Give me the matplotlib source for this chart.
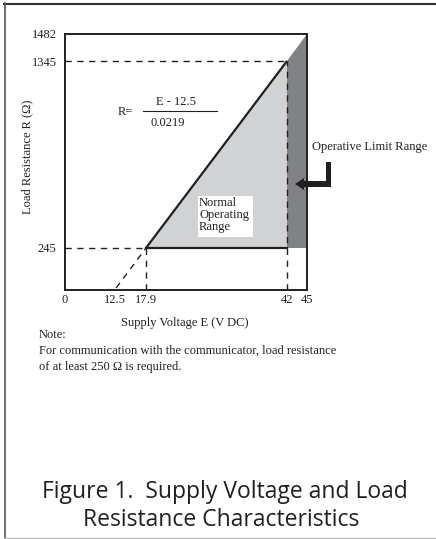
import numpy as np
import matplotlib
matplotlib.use('Agg')
import matplotlib.pyplot as plt
from matplotlib.lines import Line2D
from matplotlib.patches import Polygon, Rectangle

# values (schematic, non-uniform axes)
x_ticks = [0, 12.5, 17.9, 42, 45]
y_ticks = [0, 245, 1345, 1482]
x_tick_labels = ['0', '12.5', '17.9', '42', '45']
y_tick_labels = ['', '245', '1345', '1482']

e_min = 17.9      # minimum supply voltage at minimum load
e_max = 42        # maximum normal supply voltage
e_limit = 45      # operative limit
e_zero = 12.5     # intercept of R = (E - 12.5) / 0.0219
r_min = 245
r_max = 1345
r_limit = 1482

# where the ticks sit on the drawing (pixels from the axes origin)
x_pos = [0, 50, 81, 222, 242]
y_pos = [0, 42, 229, 256]

W, H = 436, 539
serif = 'Liberation Serif'


def px(x, y):
    return x / W, 1 - y / H


def fwd_x(v):
    return np.interp(v, x_ticks, x_pos)


def inv_x(v):
    return np.interp(v, x_pos, x_ticks)


def fwd_y(v):
    return np.interp(v, y_ticks, y_pos)


def inv_y(v):
    return np.interp(v, y_pos, y_ticks)


fig = plt.figure(figsize=(W / 100, H / 100), dpi=100)
ax = fig.add_axes([65 / W, 1 - 290 / H, 242 / W, 256 / H])
ax.set_xscale('function', functions=(fwd_x, inv_x))
ax.set_yscale('function', functions=(fwd_y, inv_y))
ax.set_xlim(0, e_limit)
ax.set_ylim(0, r_limit)

# shaded ranges
ax.fill([e_max, e_limit, e_limit, e_max], [r_min, r_min, r_limit, r_max],
        color='#808285', lw=0, zorder=1)
ax.fill([e_min, e_max, e_max], [r_min, r_min, r_max],
        color='#d1d2d4', lw=0, zorder=1)

# boundary lines
ax.plot([e_min, e_max], [r_min, r_max], color='#231f20', lw=1.6, zorder=3,
        solid_capstyle='butt')
ax.plot([e_min, e_max], [r_min, r_min], color='#231f20', lw=1.6, zorder=3)

dash = dict(color='#231f20', lw=1.0, ls=(0, (4.5, 4)), zorder=2)
ax.plot([0, e_max], [r_max, r_max], **dash)
ax.plot([0, e_min], [r_min, r_min], **dash)
ax.plot([e_min, e_min], [0, r_min], **dash)
ax.plot([e_max, e_max], [0, r_max], **dash)
ax.plot([e_zero + 0.2, e_min], [12, r_min], **dash)

ax.set_xticks(x_ticks)
ax.set_xticklabels(x_tick_labels)
ax.set_yticks(y_ticks)
ax.set_yticklabels(y_tick_labels)
ax.tick_params(length=0, labelsize=9, colors='#231f20')
ax.tick_params(axis='x', pad=3)
ax.tick_params(axis='y', pad=6)
for lab in ax.get_xticklabels() + ax.get_yticklabels():
    lab.set_fontfamily(serif)
for s in ax.spines.values():
    s.set_color('#231f20')
    s.set_linewidth(1.4)

txt = dict(family=serif, color='#231f20')

# formula
fig.text(*px(118, 112), 'R=', fontsize=9, va='center', ha='left', **txt)
fig.text(*px(176, 102), 'E - 12.5', fontsize=9, va='center', ha='center', **txt)
fig.add_artist(Line2D([143 / W, 217 / W], [1 - 111 / H] * 2, color='#231f20', lw=0.8))
fig.text(*px(168, 123), '0.0219', fontsize=9, va='center', ha='center', **txt)

# normal operating range label in white box
fig.add_artist(Rectangle(px(198, 237), 55 / W, 41 / H, transform=fig.transFigure,
                         facecolor='white', edgecolor='none', zorder=4))
fig.text(*px(199, 215), 'Normal\nOperating\nRange', fontsize=9, va='center',
         ha='left', linespacing=0.95, zorder=5, **txt)

# operative limit range label and bent arrow
fig.text(*px(312, 147), 'Operative Limit Range', fontsize=9, va='center',
         ha='left', **txt)
arrow_px = [(326, 162), (331, 162), (331, 187), (304, 187), (304, 190),
            (295, 184), (304, 178), (304, 181), (326, 181)]
fig.add_artist(Polygon([px(a, b) for a, b in arrow_px], closed=True,
                       transform=fig.transFigure, facecolor='#231f20',
                       edgecolor='none'))

# axis titles
fig.text(*px(27, 157), 'Load Resistance R (\u03a9)', fontsize=9, rotation=90,
         va='center', ha='center', **txt)
fig.text(*px(185, 323), 'Supply Voltage E (V DC)', fontsize=9, va='center',
         ha='center', **txt)

# note
fig.text(*px(39, 335), 'Note:', fontsize=9, va='center', ha='left', **txt)
fig.text(*px(39, 351), 'For communication with the communicator, load resistance',
         fontsize=9, va='center', ha='left', **txt)
fig.text(*px(39, 367), 'of at least 250 \u03a9 is required.', fontsize=9,
         va='center', ha='left', **txt)

# caption
fig.text(*px(225, 492), 'Figure 1.  Supply Voltage and Load', fontsize=16.5,
         family='Open Sans', color='#231f20', va='center', ha='center')
fig.text(*px(221, 520), 'Resistance Characteristics', fontsize=16.5,
         family='Open Sans', color='#231f20', va='center', ha='center')

# page frame
fig.add_artist(Line2D([4 / W, 1], [1 - 3.5 / H] * 2, color='#333333', lw=1.5))
fig.add_artist(Line2D([4.5 / W] * 2, [1 - 3 / H, 1 - 538 / H], color='#555555', lw=1.2))
fig.add_artist(Line2D([4 / W, 1], [1 - 537.5 / H] * 2, color='#bbbbbb', lw=1.0))

fig.savefig('out.png', dpi=100)
